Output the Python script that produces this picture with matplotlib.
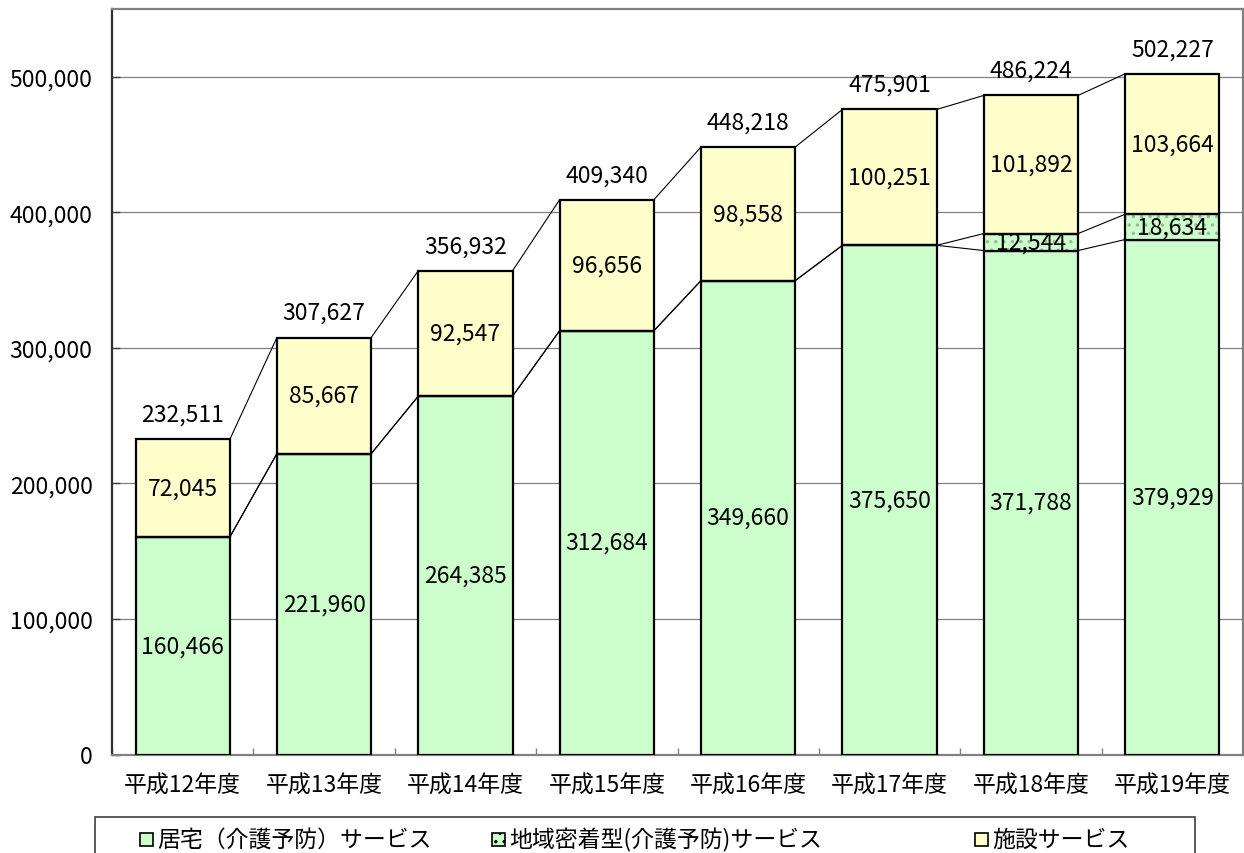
import matplotlib
matplotlib.use("Agg")
import matplotlib.pyplot as plt
from matplotlib.patches import Rectangle
from matplotlib.ticker import FuncFormatter, FixedLocator
import numpy as np

plt.rcParams['font.family'] = ['Noto Sans CJK JP', 'DejaVu Sans']
plt.rcParams['hatch.linewidth'] = 1.2

categories = ["平成12年度", "平成13年度", "平成14年度", "平成15年度",
              "平成16年度", "平成17年度", "平成18年度", "平成19年度"]
home = [160466, 221960, 264385, 312684, 349660, 375650, 371788, 379929]
local = [0, 0, 0, 0, 0, 0, 12544, 18634]
facility = [72045, 85667, 92547, 96656, 98558, 100251, 101892, 103664]
series_names = ["居宅（介護予防）サービス", "地域密着型(介護予防)サービス", "施設サービス"]

GREEN = "#ccffcc"
YELLOW = "#ffffcc"

W, H = 1244, 854
fig = plt.figure(figsize=(W / 100, H / 100), dpi=100)
ax = fig.add_axes([112 / W, 1 - 755.5 / H, (1243 - 112) / W, (755.5 - 10) / H])

x = np.arange(len(categories))
bw = 0.667
home_a = np.array(home)
local_a = np.array(local)
fac_a = np.array(facility)
cum1 = home_a
cum2 = home_a + local_a
cum3 = cum2 + fac_a

# series lines
for cum in (cum1, cum2, cum3):
    for i in range(len(x) - 1):
        ax.plot([x[i] + bw / 2, x[i + 1] - bw / 2], [cum[i], cum[i + 1]],
                color="black", lw=0.8, zorder=2)

ax.bar(x, home_a, bw, color=GREEN, edgecolor="black", lw=1.6, zorder=3)
ax.bar(x, local_a, bw, bottom=cum1, color=GREEN, edgecolor="#9ab89a", hatch="..",
       lw=0, zorder=3)
ax.bar(x, local_a, bw, bottom=cum1, fill=False, edgecolor="black", lw=1.6, zorder=4)
ax.bar(x, fac_a, bw, bottom=cum2, color=YELLOW, edgecolor="black", lw=1.6, zorder=3)

fs = 16.5
for i in range(len(x)):
    ax.text(x[i], home_a[i] / 2, f"{home_a[i]:,}", ha="center", va="center",
            fontsize=fs, zorder=6)
    if local_a[i] > 0:
        ax.text(x[i], cum1[i] + local_a[i] / 2, f"{local_a[i]:,}", ha="center",
                va="center", fontsize=fs, zorder=6)
    ax.text(x[i], cum2[i] + fac_a[i] / 2, f"{fac_a[i]:,}", ha="center", va="center",
            fontsize=fs, zorder=6)
    ax.annotate(f"{cum3[i]:,}", (x[i], cum3[i]), xytext=(0, 18),
                textcoords="offset points", ha="center", va="center",
                fontsize=fs, zorder=6)

ax.set_xlim(-0.5, len(x) - 0.5)
ax.set_ylim(0, 550000)
ax.yaxis.set_major_locator(FixedLocator([0, 100000, 200000, 300000, 400000, 500000]))
ax.yaxis.set_major_formatter(FuncFormatter(lambda v, p: f"{int(v):,}"))
ax.grid(axis="y", color="#808080", lw=0.9, zorder=0)
ax.set_axisbelow(True)

ax.set_xticks(x)
ax.set_xticklabels(categories)
ax.set_xticks(np.arange(len(x) + 1) - 0.5, minor=True)
ax.tick_params(axis="x", which="major", length=0, pad=14, labelsize=fs)
ax.tick_params(axis="x", which="minor", direction="in", length=5, width=1,
               color="#808080")
ax.tick_params(axis="y", direction="in", length=6, width=1, pad=14, labelsize=fs,
               color="#404040")

for s in ("top", "right", "bottom"):
    ax.spines[s].set_color("#808080")
    ax.spines[s].set_linewidth(1.6)
ax.spines["left"].set_color("#303030")
ax.spines["left"].set_linewidth(1.6)

# legend box
fig.add_artist(Rectangle((95 / W, -0.05), (1195 - 95) / W, 0.05 + (854 - 818) / H,
                         transform=fig.transFigure, fill=False,
                         edgecolor="#404040", lw=1.2))
leg_x = [140, 492, 975]
leg_colors = [GREEN, GREEN, YELLOW]
leg_hatch = [None, "..", None]
ly = 840
sq = 13
for lx, name, col, hh in zip(leg_x, series_names, leg_colors, leg_hatch):
    r = Rectangle((lx / W, 1 - (ly + sq / 2) / H), sq / W, sq / H,
                  transform=fig.transFigure, facecolor=col,
                  edgecolor="black", lw=1.2, hatch=hh)
    fig.add_artist(r)
    fig.text((lx + sq + 4) / W, 1 - ly / H, name, fontsize=fs, va="center",
             ha="left")

fig.savefig("out.png", dpi=100)
